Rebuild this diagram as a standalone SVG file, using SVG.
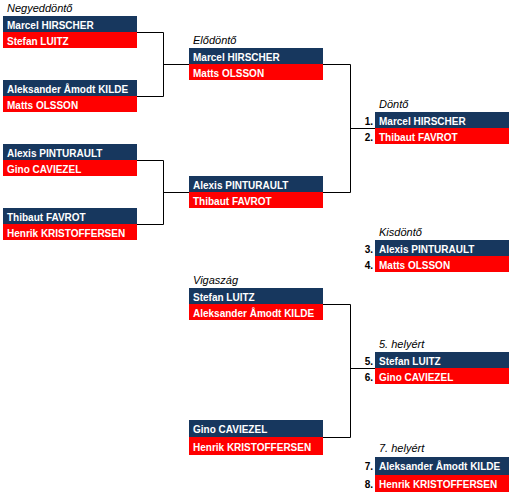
<svg xmlns="http://www.w3.org/2000/svg" width="527" height="503" viewBox="0 0 527 503">
<style>
.bg{fill:#ffffff}
.nv{fill:#17375E}
.rd{fill:#FF0000}
.t{font-family:"Liberation Sans",Arial,sans-serif;font-size:10px;font-weight:bold;fill:#ffffff}
.n{font-family:"Liberation Sans",Arial,sans-serif;font-size:10px;font-weight:bold;fill:#000000;text-anchor:end}
.lb{font-family:"Liberation Sans",Arial,sans-serif;font-size:11px;font-style:italic;fill:#000000}
.c{fill:none;stroke:#000000;stroke-width:1}
</style>
<rect class="bg" x="0" y="0" width="527" height="503"/>
<g id="connectors">
<path class="c" d="M137,32.5 H163.5 V96.5 H137 M163.5,64.5 H189"/>
<path class="c" d="M137,160.5 H163.5 V224.5 H137 M163.5,192.5 H189"/>
<path class="c" d="M323,64.5 H350.5 V192.5 H323 M350.5,128.5 H375"/>
<path class="c" d="M323,304.5 H350.5 V437.5 H323 M350.5,368.5 H375"/>
</g>
<g id="labels">
<text class="lb" x="7" y="12">Negyeddöntő</text>
<text class="lb" x="193" y="44">Elődöntő</text>
<text class="lb" x="379" y="108">Döntő</text>
<text class="lb" x="379" y="236">Kisdöntő</text>
<text class="lb" x="193" y="284">Vigaszág</text>
<text class="lb" x="379" y="348">5. helyért</text>
<text class="lb" x="379" y="452">7. helyért</text>
</g>
<g id="qf1">
<rect class="nv" x="3" y="16" width="134" height="16"/><text class="t" x="7" y="28.5">Marcel HIRSCHER</text>
<rect class="rd" x="3" y="32" width="134" height="16"/><text class="t" x="7" y="44.5">Stefan LUITZ</text>
</g>
<g id="qf2">
<rect class="nv" x="3" y="80" width="134" height="16"/><text class="t" x="7" y="92.5">Aleksander Åmodt KILDE</text>
<rect class="rd" x="3" y="96" width="134" height="16"/><text class="t" x="7" y="108.5">Matts OLSSON</text>
</g>
<g id="qf3">
<rect class="nv" x="3" y="144" width="134" height="16"/><text class="t" x="7" y="156.5">Alexis PINTURAULT</text>
<rect class="rd" x="3" y="160" width="134" height="16"/><text class="t" x="7" y="172.5">Gino CAVIEZEL</text>
</g>
<g id="qf4">
<rect class="nv" x="3" y="208" width="134" height="16"/><text class="t" x="7" y="220.5">Thibaut FAVROT</text>
<rect class="rd" x="3" y="224" width="134" height="16"/><text class="t" x="7" y="236.5">Henrik KRISTOFFERSEN</text>
</g>
<g id="sf1">
<rect class="nv" x="189" y="48" width="134" height="16"/><text class="t" x="193" y="60.5">Marcel HIRSCHER</text>
<rect class="rd" x="189" y="64" width="134" height="16"/><text class="t" x="193" y="76.5">Matts OLSSON</text>
</g>
<g id="sf2">
<rect class="nv" x="189" y="176" width="134" height="16"/><text class="t" x="193" y="188.5">Alexis PINTURAULT</text>
<rect class="rd" x="189" y="192" width="134" height="16"/><text class="t" x="193" y="204.5">Thibaut FAVROT</text>
</g>
<g id="final">
<rect class="nv" x="375" y="112" width="134" height="16"/><text class="t" x="379" y="124.5">Marcel HIRSCHER</text>
<rect class="rd" x="375" y="128" width="134" height="16"/><text class="t" x="379" y="140.5">Thibaut FAVROT</text>
<text class="n" x="373" y="124.5">1.</text><text class="n" x="373" y="140.5">2.</text>
</g>
<g id="third">
<rect class="nv" x="375" y="240" width="134" height="16"/><text class="t" x="379" y="252.5">Alexis PINTURAULT</text>
<rect class="rd" x="375" y="256" width="134" height="16"/><text class="t" x="379" y="268.5">Matts OLSSON</text>
<text class="n" x="373" y="252.5">3.</text><text class="n" x="373" y="268.5">4.</text>
</g>
<g id="cons1">
<rect class="nv" x="189" y="288" width="134" height="16"/><text class="t" x="193" y="300.5">Stefan LUITZ</text>
<rect class="rd" x="189" y="304" width="134" height="16"/><text class="t" x="193" y="316.5">Aleksander Åmodt KILDE</text>
</g>
<g id="cons2">
<rect class="nv" x="189" y="420" width="134" height="17"/><text class="t" x="193" y="432.5">Gino CAVIEZEL</text>
<rect class="rd" x="189" y="437" width="134" height="18"/><text class="t" x="193" y="450.5">Henrik KRISTOFFERSEN</text>
</g>
<g id="fifth">
<rect class="nv" x="375" y="352" width="134" height="16"/><text class="t" x="379" y="364.5">Stefan LUITZ</text>
<rect class="rd" x="375" y="368" width="134" height="16"/><text class="t" x="379" y="380.5">Gino CAVIEZEL</text>
<text class="n" x="373" y="364.5">5.</text><text class="n" x="373" y="380.5">6.</text>
</g>
<g id="seventh">
<rect class="nv" x="375" y="457" width="134" height="18"/><text class="t" x="379" y="470">Aleksander Åmodt KILDE</text>
<rect class="rd" x="375" y="475" width="134" height="17"/><text class="t" x="379" y="487.5">Henrik KRISTOFFERSEN</text>
<text class="n" x="373" y="470">7.</text><text class="n" x="373" y="487.5">8.</text>
</g>
</svg>
